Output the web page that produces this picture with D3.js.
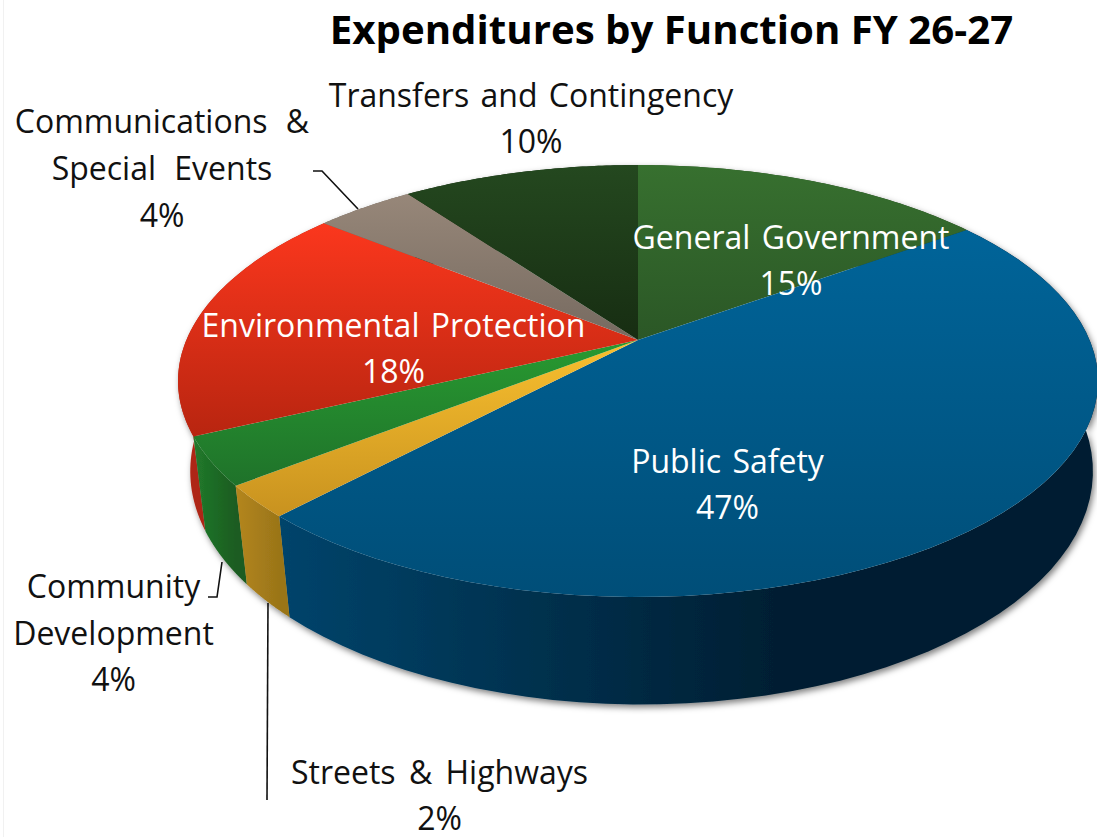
<!DOCTYPE html>
<html><head><meta charset="utf-8">
<script src="https://cdnjs.cloudflare.com/ajax/libs/d3/7.8.5/d3.min.js"></script>
<style>html,body{margin:0;padding:0;background:#fff;overflow:hidden}svg{display:block}
text{font-family:"Open Sans","Noto Sans",sans-serif}</style></head><body>
<svg id="c" width="1097" height="837"></svg>
<script>
const titleText = "Expenditures by Function FY 26-27";
const categories = ["General Government","Public Safety","Streets & Highways","Community Development","Environmental Protection","Communications & Special Events","Transfers and Contingency"];
const values = [15,47,2.4,3.6,17.8,4.2,10];
const topStart = ["#37702f","#006499","#f9c02f","#289a31","#fb371d","#978779","#24481f"];
const topEnd   = ["#2b5726","#004e78","#c8921f","#1f722a","#b82510","#766a60","#172d12"];
const sideStart= ["#2a5723","#00446b","#b4861f","#217a2b","#b02614","#6e6359","#142a10"];
const sideEnd  = ["#1c3c18","#001d30","#9a7518","#1a5c20","#a02210","#6e6359","#142a10"];
const labelLines = [["General Government","15%"],["Public Safety","47%"],["Streets & Highways","2%"],["Community","Development","4%"],["Environmental Protection","18%"],["Communications &","Special Events","4%"],["Transfers and Contingency","10%"]];
const labelFill = ["#fff","#fff","#111","#111","#fff","#111","#111"];
const labelX = [791,727.5,439.5,113.5,393.5,162,531];
const labelY = [249,473,784,598,337,133,107];
const labelGap = [46,46,45.5,46.7,46,46.8,46];
const labelWordGap = [3,3,5,3,3,10,3];

const svg = d3.select("#c");
const defs = svg.append("defs");
const pie = d3.pie().sort(null).startAngle(0).endAngle(2*Math.PI);
const arcs = pie(values);
const K = 0.19, DEPTH = 87, SHRINK = 0.0188, SHIFT = 3.6;
const x = d3.scaleLinear().domain([-1,1]).range([638-451.6,638+451.6]);
const y = d3.scaleLinear().domain([-1,1]).range([340-208.2,340+208.2]);
const proj = (a,r,base) => {
  const u = r*Math.sin(a), v = -r*Math.cos(a), s = 1/(1-K*v);
  let px = x(u*s), py = y(v*s);
  if (base){ px = px+SHIFT-SHRINK*(px-x(0)); py += DEPTH*s; }
  return [px,py];
};
const line = d3.line();
const samples = (a0,a1) => d3.range(0,61).map(i=>a0+(a1-a0)*i/60);

arcs.forEach((d,i)=>{
  const pts = samples(d.startAngle,d.endAngle).map(a=>proj(a,1,false));
  const ys = pts.map(p=>p[1]).concat(y(0));
  const xs = pts.map(p=>p[0]);
  const g = defs.append("linearGradient").attr("id","t"+i).attr("gradientUnits","userSpaceOnUse")
    .attr("x1",0).attr("x2",0).attr("y1",d3.min(ys)).attr("y2",d3.max(ys));
  g.append("stop").attr("offset",0).attr("stop-color",topStart[i]);
  g.append("stop").attr("offset",1).attr("stop-color",topEnd[i]);
  const h = defs.append("linearGradient").attr("id","s"+i).attr("gradientUnits","userSpaceOnUse")
    .attr("x1",d3.min(xs)).attr("x2",i===1?800:d3.max(xs)).attr("y1",0).attr("y2",0);
  h.append("stop").attr("offset",0).attr("stop-color",sideStart[i]);
  h.append("stop").attr("offset",1).attr("stop-color",sideEnd[i]);
});

defs.append("filter").attr("id","shadow").attr("x","-5%").attr("y","-5%").attr("width","110%").attr("height","115%")
  .append("feDropShadow").attr("dx",2).attr("dy",3).attr("stdDeviation",3).attr("flood-color","#000").attr("flood-opacity",0.5);

svg.append("line").attr("x1",3.5).attr("x2",3.5).attr("y1",0).attr("y2",837).attr("stroke","#f1f1f1");

const sideOrder = [0,6,5,4,1,3,2];
svg.append("g").attr("filter","url(#shadow)").selectAll("path").data(sideOrder).join("path")
  .attr("fill",i=>`url(#s${i})`)
  .attr("d",i=>{
    const pts = samples(arcs[i].startAngle,arcs[i].endAngle);
    return line(pts.map(a=>proj(a,1,false)).concat(pts.slice().reverse().map(a=>proj(a,1,true))))+"Z";
  });

svg.append("g").selectAll("path").data(arcs).join("path")
  .attr("fill",(d,i)=>`url(#t${i})`)
  .attr("d",d=>line([[x(0),y(0)]].concat(samples(d.startAngle,d.endAngle).map(a=>proj(a,1,false))))+"Z");

const leaders = [[[313,171],[322,171],[358,209]],[[208,597],[217,597],[222,562]],[[267,800],[268,603]]];
svg.append("g").selectAll("path").data(leaders).join("path").attr("d",d=>line(d))
  .attr("fill","none").attr("stroke","#111").attr("stroke-width",1.6);

svg.append("text").attr("x",671.5).attr("y",44).attr("text-anchor","middle")
  .attr("font-size",40.2).attr("font-weight",700).attr("fill","#000").text(titleText);

labelLines.forEach((ls,i)=>{
  const t = svg.append("text").attr("text-anchor","middle").attr("font-size",32)
    .attr("fill",labelFill[i]).attr("word-spacing",labelWordGap[i]);
  ls.forEach((s,j)=>t.append("tspan").attr("x",labelX[i]).attr("y",labelY[i]+j*labelGap[i]).text(s));
});
</script></body></html>
